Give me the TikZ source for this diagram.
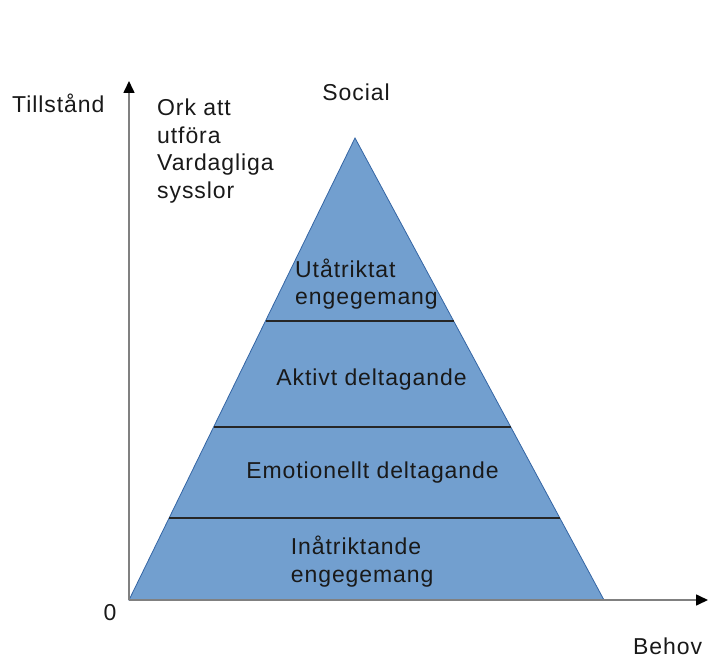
\documentclass[tikz,border=0pt]{standalone}
\usepackage{fontspec}
\setmainfont{Liberation Sans}[LetterSpace=4]
\usetikzlibrary{arrows.meta,calc}
\definecolor{pyrfill}{HTML}{729FCF}
\definecolor{pyredge}{HTML}{3465A4}

\begin{document}
\begin{tikzpicture}[x=1pt,y=-1pt]
\tikzstyle{axis}=[draw=black!50,line width=1.6pt,-{Triangle[length=12pt,width=11pt,color=black]}]
\tikzstyle{tier}=[draw=black!85,line width=1.8pt]
\tikzstyle{lbl}=[inner sep=0pt,font=\fontsize{23}{27.7}\selectfont,text=black!90]

\useasboundingbox (0,0) rectangle (709,660);

% pyramid
\coordinate (apex) at (355,138);
\coordinate (bl)   at (129,600);
\coordinate (br)   at (604,600);
\filldraw[fill=pyrfill,draw=pyredge,line width=0.8pt] (bl) -- (apex) -- (br) -- cycle;

\draw[tier] ($(bl)!0.604!(apex)$) -- ($(br)!0.604!(apex)$);
\draw[tier] ($(bl)!0.3745!(apex)$) -- ($(br)!0.3745!(apex)$);
\draw[tier] ($(bl)!0.1775!(apex)$) -- ($(br)!0.1775!(apex)$);

% axes
\coordinate (O)    at (129,600);
\coordinate (ytop) at (129,81);
\coordinate (xend) at (708,600);
\draw[axis] (O) -- (ytop);
\draw[axis] (O) -- (xend);

% labels (base of multi-line nodes = last line)
\node[lbl,anchor=base west] (yname) at (12,113) {Tillstånd};
\node[lbl,anchor=base west,align=left] (ork) at (157,198.5) {Ork att\\utföra\\Vardagliga\\sysslor};
\node[lbl,anchor=base] (social) at (356,100.7) {Social};
\node[lbl,anchor=base west,align=left] (utat) at (295,305) {Utåtriktat\\engegemang};
\node[lbl,anchor=base] (aktivt) at (371.5,385) {Aktivt deltagande};
\node[lbl,anchor=base] (emo) at (372.5,478) {Emotionellt deltagande};
\node[lbl,anchor=base west,align=left] (inat) at (290.7,582) {Inåtriktande\\engegemang};
\node[lbl,anchor=base] (zero) at (110,620) {0};
\node[lbl,anchor=base west] (xname) at (633,654) {Behov};
\end{tikzpicture}
\end{document}
